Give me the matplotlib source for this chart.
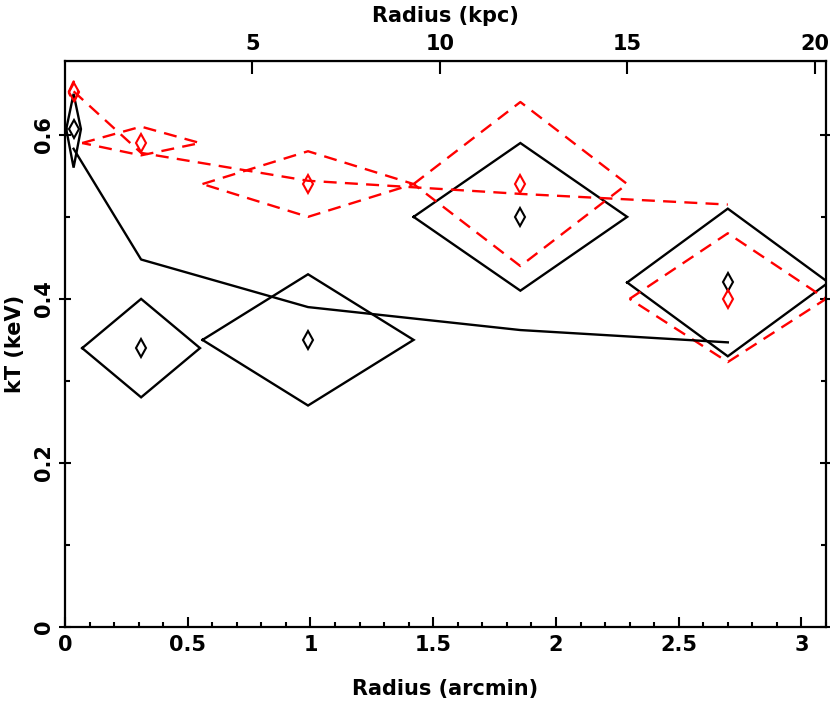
import matplotlib
matplotlib.use("Agg")
import matplotlib.pyplot as plt
from matplotlib.ticker import MultipleLocator, FixedLocator, FuncFormatter

# ---- data ----
r_arcmin = [0.035, 0.31, 0.99, 1.855, 2.70]

r_err_black = [0.03, 0.24, 0.43, 0.435, 0.41]
kt_black = [0.607, 0.34, 0.35, 0.50, 0.42]
kt_black_hi = [0.043, 0.06, 0.08, 0.09, 0.09]
kt_black_lo = [0.047, 0.06, 0.08, 0.09, 0.09]

r_err_red = [0.02, 0.24, 0.43, 0.435, 0.40]
kt_red = [0.652, 0.59, 0.54, 0.54, 0.40]
kt_red_hi = [0.013, 0.02, 0.04, 0.10, 0.08]
kt_red_lo = [0.013, 0.015, 0.04, 0.10, 0.077]

model_black = [0.583, 0.448, 0.39, 0.362, 0.347]
model_red = [0.653, 0.578, 0.544, 0.528, 0.515]

kpc_per_arcmin = 6.55
kpc_ticks = [5, 10, 15, 20]

plt.rcParams['font.family'] = ['DejaVu Sans']
plt.rcParams['font.weight'] = 'bold'

fig = plt.figure(figsize=(8.30, 7.01), dpi=100)
ax = fig.add_axes([65/830, 1-627/701, (826-65)/830, (627-61)/701])

lw = 1.7
dash = (0, (5.5, 3.5))


def diamond(ax, x, xe, y, hi, lo, **kw):
    xs = [x - xe, x, x + xe, x, x - xe]
    ys = [y, y + hi, y, y - lo, y]
    ax.plot(xs, ys, **kw)


for x, xe, y, hi, lo in zip(r_arcmin, r_err_black, kt_black, kt_black_hi, kt_black_lo):
    diamond(ax, x, xe, y, hi, lo, color='black', lw=lw, solid_joinstyle='miter')
for x, xe, y, hi, lo in zip(r_arcmin, r_err_red, kt_red, kt_red_hi, kt_red_lo):
    diamond(ax, x, xe, y, hi, lo, color='red', lw=lw, linestyle=dash)

ax.plot(r_arcmin, model_black, color='black', lw=lw)
ax.plot(r_arcmin, model_red, color='red', lw=lw, linestyle=dash)

ax.plot(r_arcmin, kt_black, linestyle='none', marker='d', ms=9, mfc='none',
        mec='black', mew=1.5)
ax.plot(r_arcmin, kt_red, linestyle='none', marker='d', ms=9, mfc='none',
        mec='red', mew=1.5)

ax.set_xlim(0, 3.1)
ax.set_ylim(0, 0.69)

ax.xaxis.set_major_locator(MultipleLocator(0.5))
ax.xaxis.set_minor_locator(MultipleLocator(0.1))
ax.yaxis.set_major_locator(MultipleLocator(0.2))
ax.yaxis.set_minor_locator(MultipleLocator(0.1))
ax.xaxis.set_major_formatter(FuncFormatter(lambda v, p: f"{v:g}"))
ax.yaxis.set_major_formatter(FuncFormatter(lambda v, p: f"{v:g}"))

ax.tick_params(axis='x', which='major', direction='in', length=7, width=1.5,
               top=False, labelsize=15, pad=6)
ax.tick_params(axis='x', which='minor', direction='in', length=3.6, width=1.5, top=False)
ax.tick_params(axis='y', which='major', direction='inout', length=8, width=1.5,
               right=True, labelsize=15, pad=4)
ax.tick_params(axis='y', which='minor', direction='in', length=3.6, width=1.5, right=True)
for lab in ax.get_yticklabels():
    lab.set_rotation(90)
    lab.set_va('center')
for s in ax.spines.values():
    s.set_linewidth(1.6)

sec = ax.secondary_xaxis('top', functions=(lambda a: a * kpc_per_arcmin,
                                           lambda k: k / kpc_per_arcmin))
sec.xaxis.set_major_locator(FixedLocator(kpc_ticks))
sec.tick_params(axis='x', which='major', direction='in', length=9, width=1.5,
                labelsize=15, pad=5)
sec.tick_params(axis='x', which='minor', length=0)
sec.set_xlabel('Radius (kpc)', fontsize=15, fontweight='bold', labelpad=9)

ax.set_xlabel('Radius (arcmin)', fontsize=15, fontweight='bold')
ax.xaxis.set_label_coords(0.5, (627 - 689) / 566)
ax.xaxis.label.set_va('center')
ax.set_ylabel('kT (keV)', fontsize=15, fontweight='bold')
ax.yaxis.set_label_coords((15 - 65) / 761, 0.5)
ax.yaxis.label.set_va('center')

fig.savefig('out.png', dpi=100)
